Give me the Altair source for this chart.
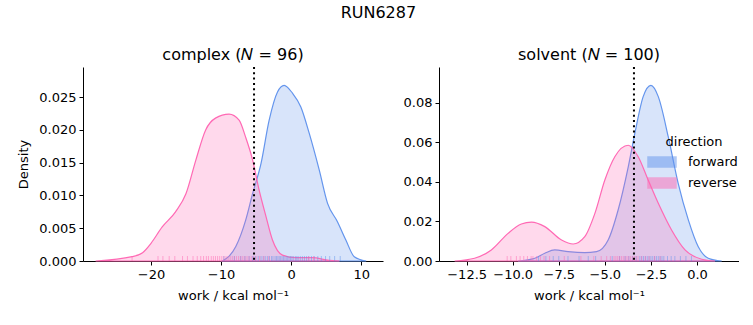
import altair as alt
import pandas as pd

directions = ["forward", "reverse"]
colors = ["#6495ED", "#FF69B4"]

# ---- complex panel: KDE curves ----
cx_fwd_x = [-9.8, -7.9, -6.5, -5.5, -4.3, -3.14, -1.95, -1.0, 0.19, 1.38, 2.57, 4.0, 5.19, 6.6, 7.8, 9.0, 10.7]
cx_fwd_d = [0.0, 0.0022, 0.0062, 0.0103, 0.0149, 0.0215, 0.0258, 0.0268, 0.0256, 0.0235, 0.0195, 0.0139, 0.0088, 0.0060, 0.0032, 0.00066, 0.0]
cx_rev_x = [-27.9, -22.7, -21.2, -20.0, -18.4, -16.5, -15.0, -13.6, -12.2, -10.8, -8.86, -7.43, -6.5, -5.5, -4.57, -3.6, -2.67, -1.24, 0.67, 3.0, 5.4, 6.9]
cx_rev_d = [0.0, 0.00066, 0.00127, 0.0027, 0.0052, 0.0075, 0.0103, 0.0154, 0.0200, 0.0218, 0.0224, 0.0215, 0.0189, 0.0154, 0.0108, 0.0068, 0.0032, 0.0009, 0.0005, 0.0005, 0.0001, 0.0]

# ---- solvent panel: KDE curves ----
sv_fwd_x = [-9.71, -8.8, -8.26, -7.72, -6.99, -6.09, -5.45, -4.82, -4.28, -3.73, -3.37, -2.92, -2.5, -2.1, -1.56, -1.02, -0.47, 0.07, 0.61, 1.34]
sv_fwd_d = [0.0, 0.0014, 0.0039, 0.0056, 0.0047, 0.0042, 0.0047, 0.0106, 0.0258, 0.0477, 0.0647, 0.0832, 0.0889, 0.0832, 0.0629, 0.0393, 0.0208, 0.0072, 0.0014, 0.0]
sv_rev_x = [-13.15, -12.07, -11.16, -10.25, -9.53, -8.98, -8.26, -7.35, -6.72, -6.09, -5.54, -5.0, -4.46, -3.73, -3.19, -2.65, -2.1, -1.38, -0.65, 0.26, 0.98]
sv_rev_d = [0.0, 0.0014, 0.0056, 0.0140, 0.0187, 0.0197, 0.0174, 0.0106, 0.0086, 0.0123, 0.0241, 0.0410, 0.0528, 0.0586, 0.0528, 0.0410, 0.0292, 0.0157, 0.0056, 0.0009, 0.0]

# ---- rug samples (estimated) ----
cx_fwd_rug = [-9.6, -8.1, -7.2, -6.6, -6.0, -5.5, -5.1, -4.7, -4.3, -4.0, -3.7, -3.4, -3.1, -2.8, -2.6, -2.3, -2.1, -1.9, -1.7, -1.5, -1.3, -1.1, -0.9, -0.7, -0.5, -0.3, -0.1, 0.1, 0.3, 0.6, 0.8, 1.0, 1.3, 1.6, 1.9, 2.2, 2.5, 2.9, 3.3, 3.8, 4.3, 4.9, 5.5, 6.2, 7.0]
cx_rev_rug = [-22.7, -19.0, -18.3, -17.4, -16.6, -15.5, -14.8, -14.0, -13.4, -12.9, -12.5, -12.1, -11.8, -11.4, -11.1, -10.8, -10.5, -10.2, -9.9, -9.6, -9.3, -9.0, -8.7, -8.4, -8.1, -7.8, -7.5, -7.2, -6.9, -6.6, -6.3, -6.0, -5.7, -5.4, -5.0, -4.5, -3.9, -3.2, 2.5, 3.2]
sv_fwd_rug = [-8.6, -8.2, -7.8, -7.5, -7.0, -6.4, -5.9, -5.5, -4.6, -4.2, -3.9, -3.7, -3.5, -3.3, -3.1, -3.0, -2.9, -2.8, -2.7, -2.6, -2.5, -2.4, -2.3, -2.2, -2.1, -2.0, -1.9, -1.8, -1.6, -1.4, -1.2, -0.9, -0.6, -0.3]
sv_rev_rug = [-10.3, -10.1, -9.8, -9.6, -9.4, -9.2, -9.0, -8.9, -8.7, -8.5, -8.3, -8.0, -7.2, -6.3, -5.6, -5.2, -4.9, -4.7, -4.5, -4.4, -4.3, -4.2, -4.1, -4.0, -3.9, -3.8, -3.7, -3.6, -3.5, -3.4, -3.3, -3.2, -3.0, -2.8, -2.6, -2.3, -2.0]

# vertical reference lines
vlines = {"complex": -5.3, "solvent": -3.42}

panel_titles = {"complex": "complex (𝑁 = 96)", "solvent": "solvent (𝑁 = 100)"}
x_domains = {"complex": [-29.7, 13.1], "solvent": [-14.0, 2.28]}
y_domains = {"complex": [0, 0.0296], "solvent": [0, 0.0982]}
x_ticks = {"complex": [-20, -10, 0, 10], "solvent": [-12.5, -10, -7.5, -5, -2.5, 0]}
y_ticks = {"complex": [0, 0.005, 0.01, 0.015, 0.02, 0.025], "solvent": [0, 0.02, 0.04, 0.06, 0.08]}
x_fmt = {"complex": "d", "solvent": ".1f"}
y_fmt = {"complex": ".3f", "solvent": ".2f"}

W, H = 300, 194

color_scale = alt.Scale(domain=directions, range=colors)
legend = alt.Legend(title="direction")


def curves(fx, fd, rx, rd):
    rows = [{"x": a, "d": b, "direction": "forward"} for a, b in zip(fx, fd)]
    rows += [{"x": a, "d": b, "direction": "reverse"} for a, b in zip(rx, rd)]
    return pd.DataFrame(rows)


def rugs(f, r):
    rows = [{"x": a, "direction": "forward"} for a in f]
    rows += [{"x": a, "direction": "reverse"} for a in r]
    return pd.DataFrame(rows)


def panel(name, cdf, rdf, show_ytitle):
    xs = alt.Scale(domain=x_domains[name], nice=False, zero=False)
    ys = alt.Scale(domain=y_domains[name], nice=False)
    xaxis = alt.Axis(title="work / kcal mol⁻¹", values=x_ticks[name], format=x_fmt[name])
    yaxis = alt.Axis(title="Density" if show_ytitle else None, values=y_ticks[name], format=y_fmt[name])
    X = alt.X("x:Q", scale=xs, axis=xaxis)
    Y = alt.Y("d:Q", scale=ys, axis=yaxis, stack=None)
    area = alt.Chart(cdf).mark_area(
        interpolate="monotone", fillOpacity=0.25, strokeWidth=1.2, strokeOpacity=1
    ).encode(
        x=X, y=Y,
        fill=alt.Fill("direction:N", scale=color_scale, legend=legend),
        stroke=alt.Stroke("direction:N", scale=color_scale, legend=legend),
    )
    rug = alt.Chart(rdf).mark_rule(strokeWidth=1, opacity=0.5).encode(
        x=X,
        y=alt.value(H - 5),
        y2=alt.value(H),
        stroke=alt.Stroke("direction:N", scale=color_scale, legend=legend),
    )
    vline = alt.Chart(pd.DataFrame({"v": [vlines[name]]})).mark_rule(
        color="black", strokeWidth=2, strokeDash=[2, 3.3]
    ).encode(x=alt.X("v:Q", scale=xs, axis=xaxis), y=alt.value(0), y2=alt.value(H))
    return alt.layer(area, rug, vline).properties(
        width=W, height=H,
        title=alt.TitleParams(panel_titles[name], fontSize=16, fontWeight="normal", offset=3),
    )


left = panel("complex", curves(cx_fwd_x, cx_fwd_d, cx_rev_x, cx_rev_d), rugs(cx_fwd_rug, cx_rev_rug), True)
right = panel("solvent", curves(sv_fwd_x, sv_fwd_d, sv_rev_x, sv_rev_d), rugs(sv_fwd_rug, sv_rev_rug), False)

chart = alt.hconcat(left, right, spacing=20).properties(
    title=alt.TitleParams("RUN6287", fontSize=16, fontWeight="normal", anchor="middle", offset=26),
    padding={"left": 17, "top": 5, "right": 0, "bottom": 0},
).configure(font="DejaVu Sans").configure_view(stroke=None).configure_axis(
    grid=False, labelFontSize=13, titleFontSize=13, titleFontWeight="normal",
    labelColor="black", titleColor="black", domainColor="black", tickColor="black",
    tickSize=4, labelPadding=3, titlePadding=8, labelFlush=False, domainWidth=1,
    labelOverlap=False, zindex=1,
).configure_legend(
    orient="none", legendX=568, legendY=69, titleFontSize=13, titleFontWeight="normal",
    labelFontSize=13, titleAnchor="middle", padding=0, titlePadding=2,
    symbolType="M-1.4,-0.5H1.4V0.5H-1.4Z", symbolSize=400, symbolStrokeWidth=1.5,
    symbolOpacity=0.5, rowPadding=2, labelOffset=15,
).configure_title(color="black")

chart.save("out.html", embed_options={"renderer": "svg", "actions": False})
